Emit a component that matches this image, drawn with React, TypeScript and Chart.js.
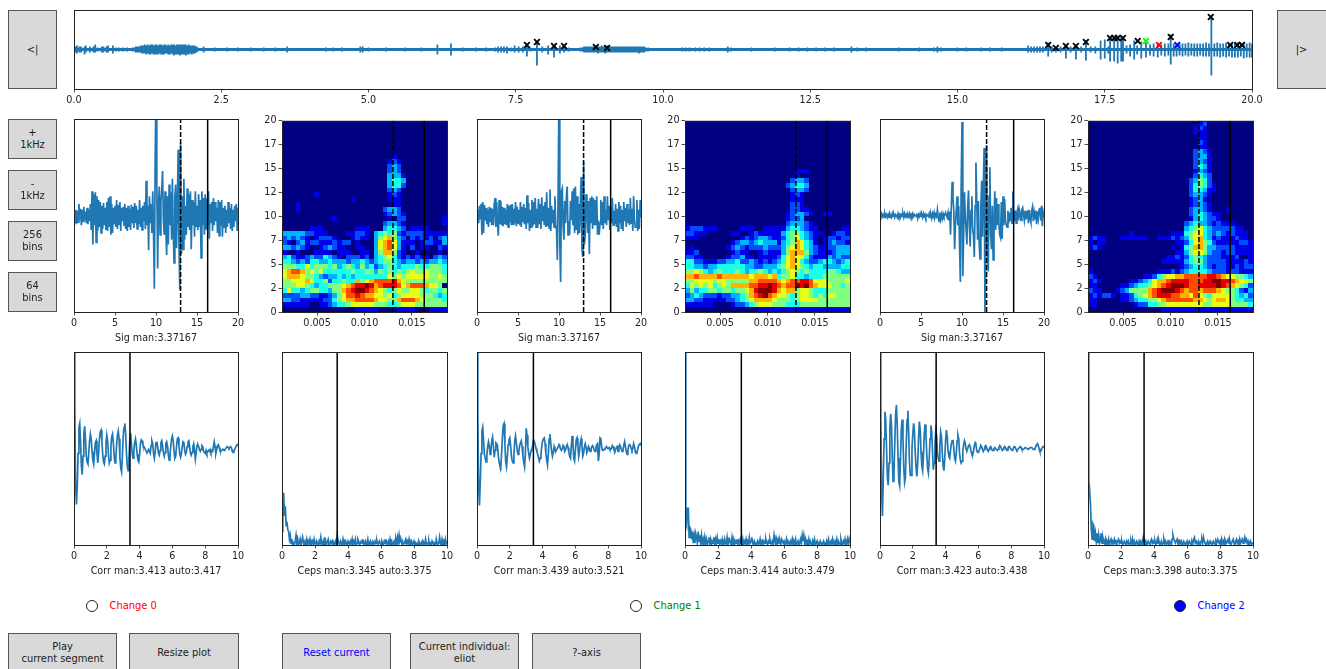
import { useEffect, useRef } from 'react';
import { Chart, registerables } from 'chart.js';

Chart.register(...registerables);

const FONT = '"DejaVu Sans"';
const BLUE = '#1f77b4';
const TEXT = '#222';

// overview: [time, up, down], amplitude around the centre line
const overviewSpikes: number[][] = [
  [0.03, 3, 3], [0.05, 4, 4], [0.09, 3, 3], [0.12, 3, 3], [0.18, 3, 5], [0.2, 4, 3], [0.27, 3, 3], [0.33, 3, 3], [0.36, 5, 3],
  [0.4, 2, 2], [0.47, 3, 3], [0.5, 3, 3], [0.55, 3, 3], [0.58, 4, 3], [0.66, 4, 4], [0.71, 2, 2], [0.76, 2, 2], [0.83, 2, 2], [0.9, 2, 2],
  [1.0, 2, 2], [1.03, 2, 2], [1.05, 3, 3], [1.08, 3, 3], [1.1, 3, 3], [1.13, 4, 3], [1.15, 4, 4], [1.18, 4, 4], [1.2, 5, 4], [1.23, 4, 5],
  [1.25, 5, 4], [1.28, 4, 5], [1.3, 5, 5], [1.33, 5, 4], [1.35, 4, 5], [1.38, 5, 5], [1.4, 5, 5], [1.43, 4, 5], [1.45, 5, 4], [1.48, 5, 5],
  [1.5, 4, 5], [1.53, 5, 5], [1.55, 5, 4], [1.58, 4, 4], [1.6, 5, 5], [1.63, 4, 5], [1.65, 5, 4], [1.68, 5, 5], [1.7, 5, 6], [1.73, 4, 5],
  [1.75, 5, 5], [1.78, 5, 5], [1.8, 5, 6], [1.83, 5, 5], [1.85, 5, 5], [1.88, 5, 5], [1.9, 5, 6], [1.93, 4, 5], [1.95, 5, 5], [1.98, 4, 4],
  [2.0, 4, 5], [2.03, 4, 4], [2.05, 4, 4], [2.08, 3, 3], [2.1, 2, 2], [2.2, 3, 3], [2.39, 2, 2], [2.6, 2, 2], [2.78, 2, 2], [3.0, 2, 2],
  [3.22, 2, 2], [3.42, 2, 2], [3.62, 3, 3], [4.28, 2, 2], [4.4, 2, 2], [4.55, 2, 2], [4.86, 3, 3], [4.9, 3, 3], [5.0, 2, 2], [5.3, 2, 2],
  [5.62, 2, 2], [5.9, 2, 2], [6.17, 5, 5], [6.4, 6, 6], [6.6, 2, 2], [6.82, 2, 2], [7.0, 2, 2], [7.15, 2, 2], [7.2, 3, 3], [7.25, 3, 3],
  [7.3, 3, 3], [7.35, 3, 4], [7.42, 2, 2], [7.48, 4, 3], [7.55, 3, 3], [7.62, 3, 3], [7.69, 6, 7], [7.75, 2, 2], [7.86, 8, 16], [7.95, 3, 3],
  [8.05, 4, 5], [8.15, 5, 8], [8.25, 4, 4], [8.32, 5, 3], [8.4, 2, 2], [8.6, 2, 2], [8.63, 2, 2], [8.66, 3, 3], [8.69, 3, 3], [8.72, 3, 3],
  [8.75, 3, 3], [8.78, 3, 3], [8.81, 3, 3], [8.84, 4, 3], [8.87, 3, 3], [8.9, 3, 4], [8.93, 3, 3], [8.96, 4, 3], [8.99, 3, 3], [9.02, 3, 4],
  [9.05, 4, 3], [9.08, 3, 3], [9.11, 3, 3], [9.14, 3, 3], [9.17, 3, 3], [9.2, 3, 3], [9.23, 3, 3], [9.26, 3, 3], [9.29, 3, 3], [9.32, 3, 3],
  [9.35, 3, 3], [9.38, 3, 3], [9.41, 3, 3], [9.44, 3, 3], [9.47, 3, 3], [9.5, 3, 3], [9.53, 3, 3], [9.56, 3, 3], [9.59, 3, 4], [9.62, 3, 3],
  [9.65, 3, 3], [9.68, 3, 3], [9.71, 2, 2], [9.75, 2, 2], [10.32, 2, 2], [10.38, 2, 2], [10.45, 2, 2], [10.55, 2, 2], [10.62, 2, 2], [10.7, 2, 2],
  [10.78, 2, 2], [11.1, 3, 3], [11.15, 2, 2], [11.5, 2, 2], [11.9, 2, 2], [12.15, 2, 2], [12.3, 2, 2], [12.45, 2, 2], [12.6, 2, 2], [12.75, 2, 2],
  [12.9, 2, 2], [13.2, 3, 3], [13.3, 2, 2], [13.45, 2, 2], [14.0, 2, 2], [14.35, 2, 2], [14.6, 2, 2], [14.66, 3, 3], [14.72, 2, 2], [15.0, 2, 2],
  [15.15, 2, 2], [15.4, 2, 2], [15.55, 2, 2], [15.75, 2, 2], [16.2, 4, 3], [16.25, 3, 3], [16.3, 3, 3], [16.35, 3, 3], [16.4, 3, 3], [16.45, 3, 3],
  [16.54, 7, 7], [16.6, 3, 3], [16.67, 3, 3], [16.75, 3, 3], [16.84, 4, 9], [16.92, 3, 3], [17.01, 4, 10], [17.1, 3, 3], [17.18, 9, 11], [17.26, 3, 3],
  [17.34, 3, 4], [17.43, 9, 10], [17.5, 10, 9], [17.56, 3, 4], [17.59, 13, 12], [17.66, 12, 12], [17.72, 13, 14], [17.78, 13, 12], [17.81, 11, 12], [17.87, 4, 4],
  [17.93, 5, 7], [18.0, 9, 10], [18.05, 4, 5], [18.12, 8, 9], [18.2, 7, 8], [18.27, 5, 6], [18.33, 6, 7], [18.4, 6, 8], [18.46, 5, 6], [18.52, 6, 7],
  [18.58, 6, 6], [18.62, 15, 15], [18.67, 6, 7], [18.72, 6, 7], [18.77, 6, 6], [18.82, 6, 7], [18.87, 6, 6], [18.92, 7, 7], [18.97, 6, 6], [19.02, 6, 7],
  [19.07, 6, 7], [19.12, 6, 6], [19.17, 6, 7], [19.22, 7, 7], [19.27, 6, 7], [19.31, 34, 26], [19.36, 6, 7], [19.41, 7, 7], [19.46, 6, 8], [19.51, 6, 7],
  [19.56, 7, 8], [19.61, 6, 7], [19.66, 6, 8], [19.71, 7, 8], [19.76, 7, 8], [19.81, 6, 7], [19.86, 7, 9], [19.91, 6, 8], [19.96, 7, 8], [20.0, 6, 8],
];

const blackMarkers = [
  { x: 7.69, y: 4.5 }, { x: 7.86, y: 7.5 }, { x: 8.15, y: 3.5 }, { x: 8.32, y: 3.5 }, { x: 8.86, y: 2.5 }, { x: 9.05, y: 1.5 },
  { x: 16.54, y: 4.5 }, { x: 16.67, y: 1.5 }, { x: 16.84, y: 3.5 }, { x: 17.01, y: 3.5 }, { x: 17.18, y: 7.5 },
  { x: 17.59, y: 11.5 }, { x: 17.66, y: 11.5 }, { x: 17.72, y: 11.5 }, { x: 17.81, y: 11.5 }, { x: 18.06, y: 8.5 },
  { x: 18.62, y: 12.5 }, { x: 19.3, y: 32.5 }, { x: 19.63, y: 4.5 }, { x: 19.75, y: 4.5 }, { x: 19.83, y: 4.5 },
];
const greenMarkers = [{ x: 18.2, y: 8.5 }];
const redMarkers = [{ x: 18.42, y: 4.5 }];
const blueMarkers = [{ x: 18.73, y: 4.5 }];

// one line per millisecond, 0.1 ms apart
const sigA = [
  0, -8, 6, -9, 5, -7, 12, -4, 7, -10,
  6, -6, 9, -5, 4, -8, 8, -9, 6, -6,
  12, -15, 25, -30, 22, -10, 24, -28, 20, -16,
  16, -12, 14, -18, 10, -14, 13, -10, 8, -15,
  14, -16, 18, -12, 20, -20, 12, -18, 8, -9,
  10, -12, 16, -14, 11, -9, 14, -16, 8, -6,
  9, -10, 12, -14, 8, -16, 10, -12, 7, -15,
  11, -8, 9, -13, 13, -8, 10, -14, 6, -9,
  16, -12, 8, -15, 10, -6, 14, -14, 36, -10,
  10, -36, 20, -8, 12, -18, 25, -20, -76, 60,
  130, 30, -55, 10, 30, -20, 14, 26, 46, -5,
  -20, 25, -15, -41, 20, -30, 32, -10, 24, -25,
  38, -15, -49, 20, 32, -34, 8, 68, -30, -77,
  75, -40, 20, -35, 38, -25, 10, -20, 28, -12,
  22, -15, 25, -35, 16, -10, 14, -22, 25, -12,
  10, -15, 22, -12, 16, -44, 25, -10, 18, -20,
  22, -14, 18, -10, 25, -24, 12, -8, 14, -16,
  18, -10, 14, -6, 8, -18, 16, -21, 14, -10,
  16, -22, 8, -12, 10, -18, 6, -12, 14, -8,
  8, -14, 12, -16, 6, -12, 10, -6, 12, -16,
  8,
];
const sigB = [
  -6, 6, -8, 10, -4, 12, -20, 14, -18, 11,
  -5, 8, -9, 6, -12, 9, -6, 8, -10, 7,
  -10, 12, 18, -12, 14, -8, -21, 16, -9, 15,
  -10, 9, -11, 8, -9, 6, -10, 12, -12, 10,
  -7, 11, -10, 12, -9, 7, -8, 14, -11, 9,
  -8, 6, -10, 14, -12, 9, -7, 12, -9, 8,
  -14, 21, -8, 13, -16, 6, -12, 16, -11, 14,
  -9, 18, -12, 7, -13, 17, -9, 12, -14, 19,
  -6, 10, -10, 14, -12, 24, -11, 8, -13, 27,
  -16, 10, -8, 6, -12, 20, -10, -15, -46, 30,
  130, -30, -69, 25, 28, -10, -25, 15, -8, 20,
  30, -20, -6, -20, 15, -5, 25, -10, 28, -18,
  30, -15, 20, -20, 12, -18, 10, 40, -35, -43,
  56, -30, -20, 22, 10, -18, 15, -40, 18, -8,
  20, -14, 18, -10, 16, -10, 20, -20, -5, -20,
  -8, 16, -10, 14, -14, 20, -8, 6, -10, 20,
  -5, 10, -15, 8, -8, 18, -10, 5, -9, 12,
  -12, 7, -16, 14, -8, 10, -14, 6, -16, 14,
  -6, 8, -12, 12, -8, 6, -10, 18, -8, 7,
  -16, 20, -4, -12, -12, 16, -16, 6, -14, 16,
  -2,
];
const sigC = [
  1, -1, 2, -1, 1, -2, 2, -1, 1, -2,
  1, -2, 2, 0, -2, 2, -1, 1, -2, 1,
  0, -2, 2, -1, 1, -2, 1, -1, 2, -2,
  2, -1, 1, -2, 1, -1, 2, -2, 1, -1,
  2, -1, 1, 0, -1, 2, -3, 1, -1, 2,
  -1, 1, -2, 2, -1, 1, -2, 1, 0, -1,
  2, -2, 1, -3, 2, -1, 3, -2, 1, -1,
  6, -2, -6, 3, -4, 1, -3, 2, -1, 1,
  3, 0, -2, 3, -5, 4, -20, 10, 35, 18,
  5, -35, -10, 5, 20, -10, 10, -30, -69, 30,
  97, -63, -20, 24, 0, -15, -30, 10, 26, -10,
  -32, 5, 20, -15, -20, -43, 10, 55, 15, -25,
  15, -30, -45, 10, 36, -22, 30, 70, -100, -40,
  73, -30, -58, 20, 50, -20, -35, 10, -46, -10,
  25, -15, 18, -10, 12, -8, -20, -23, 14, -24,
  20, -10, 17, -5, -10, -12, 5, -8, 3, -6,
  8, -8, 25, -6, -4, 5, -8, 3, 7, -5,
  6, 2, -5, 6, 8, 1, -5, 5, -4, 3,
  4, -8, 6, -3, -7, 5, 9, -6, 3, -4,
  5, -9, 4, -3, 6, 8, -5, 10, -11, 3,
  -2,
];

// one line per millisecond, 0.05 ms apart
const corrA = [
  100, 40, -40, -58, -38, -5, 22, 26, 8, -18, -27, -8, 15, 23, 10, -8, -14, -16, -5, 8,
  15, 10, -3, -12, -16, -5, 6, 8, -5, -15, -5, 10, 17, 19, 8, -6, -14, -16, -8, 6,
  14, 8, -6, -15, -12, 2, 12, 15, 6, -8, -15, -10, 4, 14, 18, 10, -10, -20, -24, -8,
  12, 22, 26, 15, -5, -18, -23, -10, 8, 16, 6, -5, -10, -3, 6, 10, 4, -6, -12, -14,
  -6, 5, 9, 8, 4, 2, 1, -1, -3, -4, -3, -1, -3, -5, 3, 8, 5, -5, -10, -4,
  6, 7, 2, -5, -7, -2, 6, 8, 3, -4, -8, -4, 5, 7, 3, -6, -12, -8, 2, 10,
  13, 8, -3, -10, -8, 2, 10, 11, 3, -6, -9, -5, 2, 7, 6, -2, -6, -4, 2, 7,
  8, 2, -5, -7, -4, 2, 5, -2, -11, -4, 3, 4, 2, -1, -3, -1, 3, 2, -3, -4,
  -5, -2, -5, -3, -2, -3, -1, -4, -2, -3, 2, 7, 2, -5, -1, 3, 4, 1, -2, -3,
  -2, -1, -1, -2, -1, 0, 1, 2, 1, 0, 1, 2, 1, -3, -4, -2, -1, 1, 3, 4,
  3,
];
const corrB = [
  100, 35, -40, -59, -35, -5, 18, 22, 8, -6, -10, -14, -8, 2, 7, 3, -6, -2, 8, 12,
  2, -9, -2, 6, 5, 3, -8, -14, -18, -20, -5, 12, 24, 26, 5, -14, -19, -8, 4, 9,
  11, 3, -8, -13, -15, -6, 8, 13, 6, -2, -6, -3, 3, 6, 8, 2, -8, -14, -19, -5,
  21, 14, 2, -5, -10, -6, -2, 0, 3, 9, 7, 4, 0, -3, -6, -9, -13, -10, -5, 2,
  8, 10, 11, 5, -5, -12, -17, -5, 10, 15, 5, -3, -8, -4, 2, -1, -3, -1, 0, 2,
  4, 2, -1, -2, 0, 3, 1, -3, -1, 2, 4, 1, -4, -8, -10, 2, 13, 5, -10, -13,
  -2, 9, 11, 3, -8, -3, 6, 10, 3, -8, -5, 2, 5, 1, -4, -2, 2, 0, -3, -1,
  2, 3, 1, -2, -3, 1, 4, 5, -13, -6, 11, 10, 2, -2, -2, -1, 0, 1, 2, 0,
  0, 1, -1, -1, 0, 3, 2, -1, -4, -1, 1, 2, -3, 2, 4, 2, -1, -3, -1, 3,
  7, 2, -3, -6, -2, 3, 4, 3, 0, -2, 0, 5, 2, -3, -5, -4, -1, 3, 4, 5,
  3,
];
const corrC = [
  100, 30, -45, -70, -30, 10, 38, 30, 0, -30, -38, -15, 20, 36, 25, -10, -34, -25, 5, 35,
  45, 25, -10, -35, -39, -10, 20, 30, 10, -20, -35, -30, 5, 30, 39, 15, -15, -28, -28, 0,
  15, 26, 18, -5, -20, -29, -15, 10, 28, 20, -3, -18, -23, -8, 15, 25, 15, -5, -20, -25,
  -12, 10, 24, 18, -2, -22, -15, 5, 19, 14, -3, -10, -13, 3, 17, 12, -5, -18, -23, -10,
  8, 19, 12, -3, -8, -10, -2, 5, 8, 9, 0, -10, -13, -5, 8, 14, 10, -5, -12, -15,
  -13, -3, 4, 8, 5, -1, -2, 0, 3, 4, 2, -3, -6, -7, -3, 3, 6, 4, -2, -4,
  -4, -2, 1, 3, 2, -1, -3, -1, 2, 3, 1, -2, -3, -1, 1, 2, 0, -2, -2, 0,
  1, 0, -1, -2, -1, 1, 3, 2, 0, -2, -1, 1, 2, 1, -1, -2, 0, 2, 2, 0,
  -1, -2, -1, 1, 2, 1, -1, -2, -1, 0, 1, 2, 1, -1, -1, -1, 0, 1, 1, 0,
  0, -1, 0, 1, 1, 1, 0, -1, -1, 0, 2, 4, 5, 3, 0, -3, -3, -1, 1, 2,
  1,
];

const cepsA = [
  7, 14, 27, 15, 20, 10, 12, 8, 7, 3, 5, 1, 3, 0, 1, 0, 2, 5, 1, 3,
  0, 1, 3, 0, 2, 4, 1, 0, 2, 1, 3, 0, 2, 1, 3, 0, 1, 2, 0, 3,
  1, 0, 2, 1, 0, 2, 1, 4, 1, 0, 2, 0, 4, 1, 0, 2, 3, 0, 1, 2,
  1, 2, 0, 1, 0, 2, 1, 5, 2, 1, 0, 2, 1, 0, 3, 1, 0, 2, 1, 0,
  2, 1, 0, 2, 1, 3, 0, 2, 1, 3, 0, 1, 3, 2, 0, 1, 2, 1, 3, 0,
  1, 2, 0, 1, 3, 0, 1, 2, 0, 1, 2, 1, 0, 2, 1, 2, 0, 1, 2, 1,
  0, 2, 1, 0, 2, 1, 3, 0, 1, 2, 0, 3, 1, 2, 0, 1, 2, 0, 3, 1,
  4, 1, 5, 2, 3, 1, 2, 0, 1, 2, 3, 0, 2, 1, 3, 0, 1, 2, 0, 1,
  2, 0, 1, 0, 1, 0, 2, 1, 0, 1, 2, 0, 1, 0, 3, 1, 0, 1, 2, 0,
  1, 0, 2, 1, 0, 1, 0, 3, 1, 0, 1, 4, 1, 0, 3, 1, 2, 0, 3, 1,
  2,
];
const cepsB = [
  100, 12, 10, 19, 19, 4, 9, 8, 3, 7, 1, 5, 1, 6, 4, 1, 7, 2, 5, 1,
  5, 1, 3, 0, 4, 1, 3, 0, 2, 4, 1, 3, 0, 2, 1, 4, 0, 3, 1, 4,
  1, 3, 0, 2, 1, 3, 0, 1, 3, 0, 1, 4, 0, 2, 3, 1, 0, 4, 1, 3,
  0, 2, 1, 3, 0, 2, 1, 3, 1, 0, 3, 0, 2, 1, 3, 0, 2, 1, 4, 1,
  2, 4, 1, 0, 2, 1, 0, 1, 2, 0, 1, 3, 0, 1, 2, 0, 2, 1, 3, 1,
  0, 2, 1, 3, 1, 0, 2, 1, 5, 2, 0, 3, 1, 3, 1, 2, 0, 3, 2, 1,
  2, 0, 1, 3, 0, 2, 1, 0, 2, 1, 3, 0, 2, 1, 3, 0, 1, 2, 0, 1,
  3, 1, 5, 2, 5, 1, 3, 0, 2, 1, 3, 0, 2, 1, 0, 2, 1, 3, 0, 1,
  2, 0, 1, 0, 2, 1, 0, 1, 2, 0, 1, 0, 2, 1, 3, 0, 1, 2, 0, 3,
  1, 0, 2, 1, 3, 0, 2, 1, 0, 3, 1, 0, 2, 1, 3, 0, 1, 3, 0, 3,
  1,
];
const cepsC = [
  100, 25, 28, 21, 8, 3, 11, 10, 2, 6, 2, 6, 1, 5, 1, 2, 6, 1, 4, 2,
  1, 3, 0, 2, 1, 3, 0, 2, 3, 1, 2, 1, 3, 1, 2, 1, 2, 3, 1, 2,
  1, 2, 0, 1, 2, 1, 0, 2, 1, 2, 0, 1, 2, 0, 3, 1, 2, 0, 1, 2,
  1, 0, 2, 1, 2, 0, 1, 4, 2, 1, 2, 0, 1, 2, 1, 0, 2, 3, 1, 2,
  1, 2, 0, 1, 3, 1, 2, 0, 1, 2, 0, 1, 3, 1, 2, 0, 1, 2, 1, 2,
  1, 0, 3, 5, 3, 2, 1, 2, 3, 1, 0, 2, 1, 2, 0, 1, 2, 1, 0, 1,
  2, 0, 1, 2, 1, 0, 2, 1, 3, 4, 1, 2, 1, 0, 2, 1, 0, 2, 3, 1,
  4, 2, 1, 0, 1, 2, 0, 1, 2, 1, 0, 1, 2, 1, 0, 2, 1, 3, 2, 1,
  2, 0, 3, 1, 2, 0, 3, 2, 1, 2, 3, 1, 2, 0, 1, 2, 3, 1, 0, 2,
  3, 1, 2, 0, 3, 1, 2, 3, 1, 2, 4, 2, 3, 1, 2, 0, 1, 2, 0, 1,
  1,
];

// spectrogram rows, top (20 kHz) to bottom, 0-a hex level per cell
const heatA = [
  '0', '0', '0', '0', '0', '0', '0',
  '000000000000000000000000100000000000',
  '000000000000000000000001210000000000',
  '000000000000000000000002320000000000',
  '000000000000000000000002320000000000',
  '000000000000000000000003331000000000',
  '000000000000000000000003443000000000',
  '000000000000000000000003442000000000',
  '000000000000000000000002320000000000',
  '000000010000000000000001210000000000',
  '000000000000000100000001110000000000',
  '000100000000000000000000110000000000',
  '000100000000000000000023320000000000',
  '000000000000000000000012321000000000',
  '000000000001000000000001022000000001',
  '000000000000000000000023321000000001',
  '000000111000000011100034432011110000',
  '333332211100001122103454521222211111',
  '232321012221000121103567532021212023',
  '210231221112122010003678631110122113',
  '332321001232110011003678631020110021',
  '100100011110111001103577521001000010',
  '342112322432102221203456421212110232',
  '443232443343332334323455432332323343',
  '555446455545345435342345434445445554',
  '678875656444444544553545454565565554',
  '677765543233434344444446565666665565',
  '556667644524454475678888976555555555',
  '555665434455567899a9789998678887665',
  '464434554435578 9aa987654565566545545'.split(' ').join(''),
  '222233221123568898776656456666555434',
  '332211111224567788887665578887655554',
  '111111001123445666665554456665555555',
  '000000000000000011111000011110001111',
];
const heatB = [
  '0', '0', '0', '0', '0', '0', '0', '0', '0', '0',
  '000000000000000000000000111000000000',
  '000000000000000000000000100000000000',
  '000000000000000000000002332000000000',
  '000000000000000000000023443000000000',
  '000000000000000000000002332000000000',
  '000000000000000000000001210000000000',
  '000000000000000000000001110000000000',
  '000000000000000000000002210000000000',
  '000000000000000000000002211000000000',
  '000000000000000000000012332100110000',
  '000000000000000000000012230000000000',
  '000000000000000000000023332100000000',
  '122211100000111001111134432110000011',
  '221110000011001211111345543211001221',
  '111000000000121233211245643210122122',
  '000000000012332343331345764310123221',
  '010000000123212223222356764321122333',
  '112000000012110012111357775321112333',
  '221100000122311011112467664211132322',
  '442211122334223212123467643223443234',
  '443323344444433223334567654344333344',
  '556543454445434454343456545444455433',
  '778777787777776777674556443444555555',
  '556666566555557788887678899866655556',
  '465656456577778899a98788a9a876665545',
  '3534455455455679aaa97677566544455555',
  '23432221223345789a876654566545466555',
  '332211111223456777765554566665555555',
  '111111000012234566655544455555555555',
  '000000000000000011111111111111111111',
];
const heatC = [
  '000000000000000000000000120000000000',
  '000000000000000000000001210000000000',
  '000000000000000000000001110000000000',
  '000000000000000000000000110000000000',
  '000000000000000000000000210000000000',
  '000000000000000000000000110000000000',
  '000000000000000000000002321000000000',
  '000000000000000000000002331000000000',
  '000000000000000000000002321000000000',
  '000000000000000000000002431000000000',
  '000000000000000000000001321000000000',
  '000000000000000000000002432000000000',
  '000000000000000000000023542000000000',
  '000000000000000000000024542100000000',
  '000000000000000000000024431100000000',
  '000000000000000000000023321000000000',
  '000000000000000000000012310000000000',
  '000000000000000000000012321000000000',
  '000000000000000000000023321000100000',
  '000000000000000000000023432110000000',
  '000000000000000000000013432210000000',
  '000000000000000000000234332121110000',
  '000000000000000000000345643222221100',
  '000000000100000000111456643232121110',
  '121100011111100111212356743121112110',
  '101100000000000000011246754211111221',
  '121000000000000000101457753322221111',
  '000000000000000000011356653221221111',
  '000000000000000001121245432221112001',
  '000000000000000011111345532222111121',
  '000000000000000000001234432122112122',
  '100000000000000111212344443222122111',
  '210000000000112456677888889987665543',
  '121000000112346778999988899aa9987665',
  '110000011234456789aaa9889999a9876542',
  '2110001235555789aaa98788788876554213',
  '121221011245678999887768654666654342',
  '110000011234455678888887765677654433',
  '110000000012244556666666655666655554',
  '000000000000000011111111111111111111',
];

const overviewTicks = [0, 2.5, 5, 7.5, 10, 12.5, 15, 17.5, 20];
const sigTicks = [0, 5, 10, 15, 20];
const lagTicks = [0, 2, 4, 6, 8, 10];
const heatXTicks = [0.005, 0.01, 0.015];
const heatYTicks = [0, 2.5, 5, 7.5, 10, 12.5, 15, 17.5, 20];

const sigLabels = ['Sig man:3.37167', 'Sig man:3.37167', 'Sig man:3.37167'];
const corrLabels = ['Corr man:3.413 auto:3.417', 'Corr man:3.439 auto:3.521', 'Corr man:3.423 auto:3.438'];
const cepsLabels = ['Ceps man:3.345 auto:3.375', 'Ceps man:3.414 auto:3.479', 'Ceps man:3.398 auto:3.375'];
const corrMan = [3.413, 3.439, 3.423];
const cepsMan = [3.345, 3.414, 3.398];
const segmentStart = 13;
const segmentEnd = 16.3;

const jet = (t: number) => {
  const c = (v: number) => Math.round(255 * Math.min(1, Math.max(0, 1.5 - Math.abs(v))));
  return `rgb(${c(4 * t - 3)},${c(4 * t - 2)},${c(4 * t - 1)})`;
};

const framePlugin = {
  id: 'frame',
  afterDraw(chart: any) {
    const { ctx, chartArea: a } = chart;
    ctx.save();
    ctx.strokeStyle = '#222';
    ctx.lineWidth = 1;
    ctx.strokeRect(a.left + 0.5, a.top + 0.5, a.right - a.left, a.bottom - a.top);
    ctx.restore();
  },
};

const HEAT_MIN = 0.0013;
const HEAT_MAX = 0.0187;
const COLS = 36;
const ROWS = 40;

const heatPlugin = {
  id: 'heat',
  beforeDatasetsDraw(chart: any) {
    const cells = chart.config.options.plugins.heat.rows as string[];
    const { ctx, scales } = chart;
    const dx = (HEAT_MAX - HEAT_MIN) / COLS;
    const dy = 20 / ROWS;
    for (let r = 0; r < ROWS; r++) {
      for (let c = 0; c < COLS; c++) {
        const level = parseInt((cells[r] || '0')[c] || '0', 16);
        const x0 = Math.round(scales.x.getPixelForValue(HEAT_MIN + c * dx));
        const x1 = Math.round(scales.x.getPixelForValue(HEAT_MIN + (c + 1) * dx));
        const y0 = Math.round(scales.y.getPixelForValue(20 - r * dy));
        const y1 = Math.round(scales.y.getPixelForValue(20 - (r + 1) * dy));
        ctx.fillStyle = jet(level / 10);
        ctx.fillRect(x0, y0, x1 - x0, y1 - y0);
      }
    }
  },
};

const curve = (values: number[], step: number) => ({
  data: values.map((y, i) => ({ x: i * step, y })),
  borderColor: BLUE,
  borderWidth: 1.7,
  showLine: true,
  pointRadius: 0,
  tension: 0,
});

const vline = (x: number, lo: number, hi: number, dashed = false) => ({
  data: [{ x, y: lo }, { x, y: hi }],
  borderColor: '#000',
  borderWidth: 1.5,
  borderDash: dashed ? [5, 2] : [],
  showLine: true,
  pointRadius: 0,
});

const markers = (data: { x: number; y: number }[], color: string) => ({
  data,
  pointStyle: 'crossRot',
  pointRadius: 4,
  pointBorderColor: color,
  pointBorderWidth: 1.9,
  showLine: false,
});

const xScale = (min: number, max: number, ticks: number[], fmt: (v: number) => string, title?: string) => ({
  type: 'linear',
  min,
  max,
  afterBuildTicks: (s: any) => {
    s.ticks = ticks.map((value) => ({ value }));
  },
  afterFit: (s: any) => {
    s.height = title ? 32 : 20;
  },
  border: { display: false },
  grid: { drawOnChartArea: false, drawTicks: true, tickLength: 3.5, color: '#222', lineWidth: 0.8 },
  ticks: {
    autoSkip: false,
    maxRotation: 0,
    padding: 2,
    color: TEXT,
    font: { family: FONT, size: 9.6 },
    callback: (v: any) => fmt(Number(v)),
  },
  title: {
    display: !!title,
    text: title,
    color: TEXT,
    padding: 0,
    font: { family: FONT, size: 9.6 },
  },
});

const hiddenY = (min: number, max: number) => ({ type: 'linear', display: false, min, max });

const heatY = {
  type: 'linear',
  min: 0,
  max: 20,
  afterBuildTicks: (s: any) => {
    s.ticks = heatYTicks.map((value) => ({ value }));
  },
  afterFit: (s: any) => {
    s.width = 30;
  },
  border: { display: false },
  grid: { drawOnChartArea: false, drawTicks: true, tickLength: 3.5, color: '#222', lineWidth: 0.8 },
  ticks: {
    autoSkip: false,
    padding: 2,
    color: TEXT,
    font: { family: FONT, size: 9.6 },
    callback: (v: any) => String(Math.floor(Number(v))),
  },
};

const MARGIN_LEFT = 30;
const MARGIN_RIGHT = 20;
const MARGIN_TOP = 6;

function Panel({ box, datasets, x, y, rows }: any) {
  const ref = useRef<HTMLCanvasElement>(null);
  const [left, top, w, h] = box;
  const bottom = x.title.display ? 32 : 20;

  useEffect(() => {
    if (!ref.current) return;
    const chart = new Chart(ref.current, {
      type: 'scatter',
      data: { datasets },
      options: {
        animation: false,
        responsive: false,
        layout: {
          padding: { left: y.display === false ? MARGIN_LEFT : 0, right: MARGIN_RIGHT, top: MARGIN_TOP, bottom: 0 },
        },
        scales: { x, y },
        plugins: { legend: { display: false }, tooltip: { enabled: false }, heat: { rows } },
      } as any,
      plugins: rows ? [heatPlugin, framePlugin] : [framePlugin],
    } as any);
    return () => chart.destroy();
  }, []);

  return (
    <canvas
      ref={ref}
      width={w + MARGIN_LEFT + MARGIN_RIGHT}
      height={h + MARGIN_TOP + bottom}
      style={{ position: 'absolute', left: left - MARGIN_LEFT, top: top - MARGIN_TOP }}
    />
  );
}

function Btn({ box, text, color }: any) {
  const [left, top, w, h] = box;
  return (
    <div
      style={{
        position: 'absolute',
        left,
        top,
        width: w,
        height: h,
        boxSizing: 'border-box',
        border: '1px solid #555',
        background: '#d9d9d9',
        color: color || TEXT,
        display: 'flex',
        alignItems: 'center',
        justifyContent: 'center',
        textAlign: 'center',
        whiteSpace: 'pre-line',
        font: `9.9px/1.2 ${FONT}`,
      }}
    >
      {text}
    </div>
  );
}

function Radio({ x, label, color, on }: any) {
  return (
    <>
      <div
        style={{
          position: 'absolute',
          left: x - 6,
          top: 600,
          width: 12,
          height: 12,
          boxSizing: 'border-box',
          borderRadius: '50%',
          border: '1px solid #222',
          background: on ? '#0000ff' : '#fff',
        }}
      />
      <div style={{ position: 'absolute', left: x + 17.5, top: 600, color, font: `9.9px/12px ${FONT}` }}>{label}</div>
    </>
  );
}

const sigX = [74, 477, 880];
const heatX = [282, 685, 1088];
const sigs = [sigA, sigB, sigC];
const corrs = [corrA, corrB, corrC];
const cepss = [cepsA, cepsB, cepsC];
const heats = [heatA, heatB, heatC];

const overviewPoints = overviewSpikes.flatMap(([t, up, down]) => [
  { x: t, y: 0 },
  { x: t, y: up },
  { x: t, y: -down },
  { x: t, y: 0 },
]);

export default function App() {
  return (
    <div style={{ position: 'fixed', left: 0, top: 0, width: 1326, height: 669, overflow: 'hidden', background: '#fff', filter: 'blur(0.35px)' }}>
      <Panel
        box={[74, 10, 1178, 79]}
        x={xScale(0, 20, overviewTicks, (v) => v.toFixed(1))}
        y={hiddenY(-39.5, 39.5)}
        datasets={[
          markers(blackMarkers, '#000'),
          markers(greenMarkers, '#00ff00'),
          markers(redMarkers, '#ff0000'),
          markers(blueMarkers, '#0000ff'),
          {
            data: overviewPoints,
            borderColor: BLUE,
            borderWidth: 1.8,
            showLine: true,
            pointRadius: 0,
          },
          {
            data: [{ x: 0, y: 0 }, { x: 20, y: 0 }],
            borderColor: BLUE,
            borderWidth: 3,
            showLine: true,
            pointRadius: 0,
          },
        ]}
      />
      {sigX.map((left, i) => (
        <Panel
          key={`sig${i}`}
          box={[left, 119, 164, 193]}
          x={xScale(0, 20, sigTicks, (v) => String(v), sigLabels[i])}
          y={hiddenY(-100, 100)}
          datasets={[
            vline(segmentStart, -100, 100, true),
            vline(segmentEnd, -100, 100),
            curve(sigs[i], 0.1),
          ]}
        />
      ))}
      {heatX.map((left, i) => (
        <Panel
          key={`heat${i}`}
          box={[left, 119, 165, 193]}
          rows={heats[i]}
          x={xScale(HEAT_MIN, HEAT_MAX, heatXTicks, (v) => v.toFixed(3))}
          y={heatY}
          datasets={[
            vline(segmentStart / 1000, 0, 20, true),
            vline(segmentEnd / 1000, 0, 20),
          ]}
        />
      ))}
      {sigX.map((left, i) => (
        <Panel
          key={`corr${i}`}
          box={[left, 352, 164, 193]}
          x={xScale(0, 10, lagTicks, (v) => String(v), corrLabels[i])}
          y={hiddenY(-100, 100)}
          datasets={[vline(corrMan[i], -100, 100), curve(corrs[i], 0.05)]}
        />
      ))}
      {heatX.map((left, i) => (
        <Panel
          key={`ceps${i}`}
          box={[left, 352, 165, 193]}
          x={xScale(0, 10, lagTicks, (v) => String(v), cepsLabels[i])}
          y={hiddenY(0, 100)}
          datasets={[vline(cepsMan[i], 0, 100), curve(cepss[i], 0.05)]}
        />
      ))}
      <Btn box={[8, 10, 49, 79]} text="<|" />
      <Btn box={[1277, 10, 60, 79]} text="" />
      <div style={{ position: 'absolute', left: 1277, top: 10, width: 49, height: 79, display: 'flex', alignItems: 'center', justifyContent: 'center', color: TEXT, font: `9.9px ${FONT}` }}>|&gt;</div>
      <Btn box={[8, 119, 49, 40]} text={'+\n1kHz'} />
      <Btn box={[8, 170, 49, 40]} text={'-\n1kHz'} />
      <Btn box={[8, 221, 49, 40]} text={'256\nbins'} />
      <Btn box={[8, 272, 49, 40]} text={'64\nbins'} />
      <Radio x={92} label="Change 0" color="#ff0000" />
      <Radio x={636} label="Change 1" color="#008000" />
      <Radio x={1180} label="Change 2" color="#0000ff" on />
      <Btn box={[8, 633, 109, 40]} text={'Play\ncurrent segment'} />
      <Btn box={[129, 633, 110, 40]} text="Resize plot" />
      <Btn box={[282, 633, 109, 40]} text="Reset current" color="#0000ff" />
      <Btn box={[410, 633, 109, 40]} text={'Current individual:\neliot'} />
      <Btn box={[532, 633, 109, 40]} text="?-axis" />
    </div>
  );
}
